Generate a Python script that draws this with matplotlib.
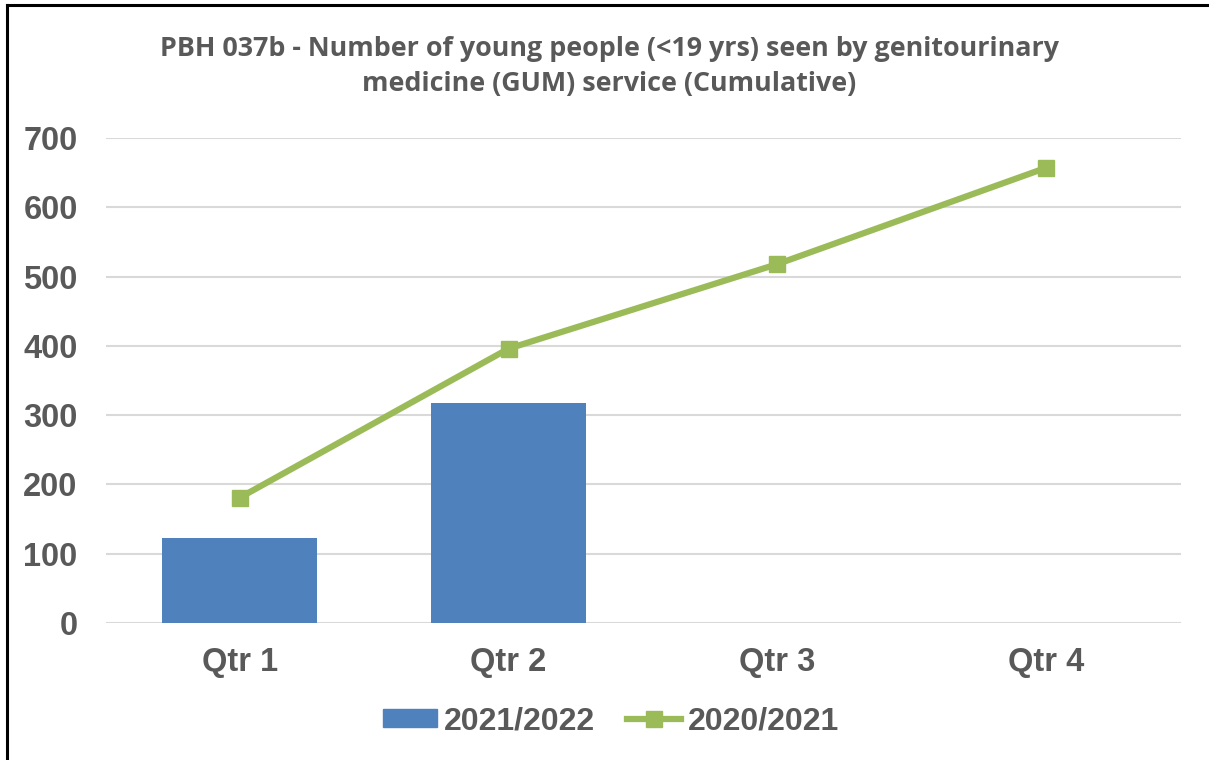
import matplotlib
matplotlib.use("Agg")
import matplotlib.pyplot as plt
from matplotlib.lines import Line2D

categories = ["Qtr 1", "Qtr 2", "Qtr 3", "Qtr 4"]
series_2122 = [123, 318]          # 2021/2022 bars
series_2021 = [181, 396, 518, 657]  # 2020/2021 line
yticks = [0, 100, 200, 300, 400, 500, 600, 700]
title = "PBH 037b - Number of young people (<19 yrs) seen by genitourinary\nmedicine (GUM) service (Cumulative)"

W, H = 1209, 760
fig = plt.figure(figsize=(W / 100, H / 100), dpi=100)
ax = fig.add_axes([105.5 / W, 1 - 623 / H, (1180.5 - 105.5) / W, (623 - 138) / H])

grey = "#595959"
bar_color = "#4F81BD"
line_color = "#9BBB59"

x_all = list(range(len(categories)))
ax.bar(x_all[:len(series_2122)], series_2122, width=0.576, color=bar_color, zorder=2,
       label="2021/2022")
ax.plot(x_all, series_2021, color=line_color, lw=4.5, marker="s", markersize=11,
        zorder=3, label="2020/2021", solid_capstyle="round")

ax.set_xlim(-0.5, 3.5)
ax.set_ylim(0, 700)
ax.set_yticks(yticks)
ax.set_yticklabels([str(v) for v in yticks])
ax.set_xticks(x_all)
ax.set_xticklabels(categories)
ax.grid(axis="y", color="#D9D9D9", lw=1.5, zorder=0)
ax.set_axisbelow(True)
for s in ax.spines.values():
    s.set_visible(False)
ax.tick_params(axis="both", length=0, colors=grey)
for lab in ax.get_yticklabels() + ax.get_xticklabels():
    lab.set_fontfamily("Liberation Sans")
    lab.set_fontweight("bold")
    lab.set_fontsize(23.5)
    lab.set_color(grey)
ax.tick_params(axis="y", pad=20)
ax.tick_params(axis="x", pad=17)

fig.text(609 / W, 1 - 66 / H, title, ha="center", va="center", fontsize=19.4,
         fontweight="bold", family="Open Sans", color=grey, linespacing=1.45)

handles = [plt.Rectangle((0, 0), 1, 1, color=bar_color),
           Line2D([0], [0], color=line_color, lw=4.5, marker="s", markersize=11)]
leg = fig.legend(handles, ["2021/2022", "2020/2021"], loc="center",
                 bbox_to_anchor=(611 / W, 1 - 721 / H), ncol=2, frameon=False,
                 prop={"family": "Liberation Sans", "weight": "bold", "size": 23},
                 handlelength=1.7, handleheight=0.5, columnspacing=1.0, handletextpad=0.2)
for t in leg.get_texts():
    t.set_color(grey)

# chart border (top and left)
fig.add_artist(Line2D([7 / W, 1.0], [1 - 5 / H, 1 - 5 / H], color="black", lw=2.2))
fig.add_artist(Line2D([7 / W, 7 / W], [0, 1 - 5 / H], color="black", lw=2.2))

fig.savefig("out.png", dpi=100)
